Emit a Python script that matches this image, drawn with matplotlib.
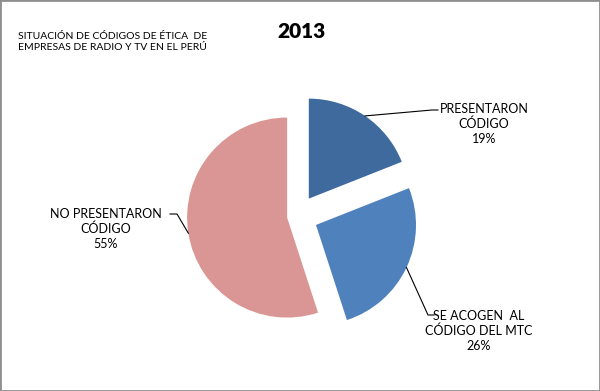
import numpy as np
import matplotlib
matplotlib.use("Agg")
import matplotlib.pyplot as plt
from matplotlib.patches import Rectangle

plt.rcParams['font.family'] = ['Lato', 'DejaVu Sans']

labels = ["PRESENTARON\nCÓDIGO", "SE ACOGEN  AL\nCÓDIGO DEL MTC", "NO PRESENTARON\nCÓDIGO"]
shares = [19, 26, 55]
colors = ["#3F6A9E", "#4F81BD", "#D99694"]
explode = [21, 21, 10]   # in pixels, since the axes are in pixel units

W, H = 600, 391
fig = plt.figure(figsize=(6, 3.91), dpi=100)
ax = fig.add_axes([0, 0, 1, 1])

# pie in pixel units, y pointing up
wedges, _ = ax.pie(shares, colors=colors, explode=explode, startangle=90,
                   counterclock=False, radius=100, center=(297, H - 216),
                   wedgeprops=dict(linewidth=0), frame=True)
ax.set_xlim(0, W)
ax.set_ylim(0, H)
ax.set_aspect('equal')
ax.axis('off')

# label placement (image pixels) and leader elbows
label_pos = [(484, 124), (479, 331), (106, 229)]
elbows = [[(432, 110), (438, 110)],
          [(428, 315), (434, 315)],
          [(177, 214), (170, 214)]]

for w, lab, val, pos, elb in zip(wedges, labels, shares, label_pos, elbows):
    mid = np.deg2rad((w.theta1 + w.theta2) / 2)
    cx, cy = w.center
    sx, sy = cx + w.r * np.cos(mid), cy + w.r * np.sin(mid)
    xs = [sx] + [p[0] for p in elb]
    ys = [sy] + [H - p[1] for p in elb]
    ax.plot(xs, ys, color='black', lw=0.8)
    ax.text(pos[0], H - pos[1], f"{lab}\n{val}%", ha='center', va='center',
            fontsize=9, linespacing=1.3, color='black')

ax.text(302, H - 32, "2013", ha='center', va='center', fontsize=15,
        fontweight='heavy', color='black')
ax.text(18, H - 42, "SITUACIÓN DE CÓDIGOS DE ÉTICA  DE\nEMPRESAS DE RADIO Y TV EN EL PERÚ",
        ha='left', va='center', fontsize=7.5, linespacing=1.25, color='black')

fig.add_artist(Rectangle((0, 0), 1, 1, transform=fig.transFigure, fill=False,
                         edgecolor='#8f8f8f', lw=2))

fig.savefig("out.png", dpi=100)
